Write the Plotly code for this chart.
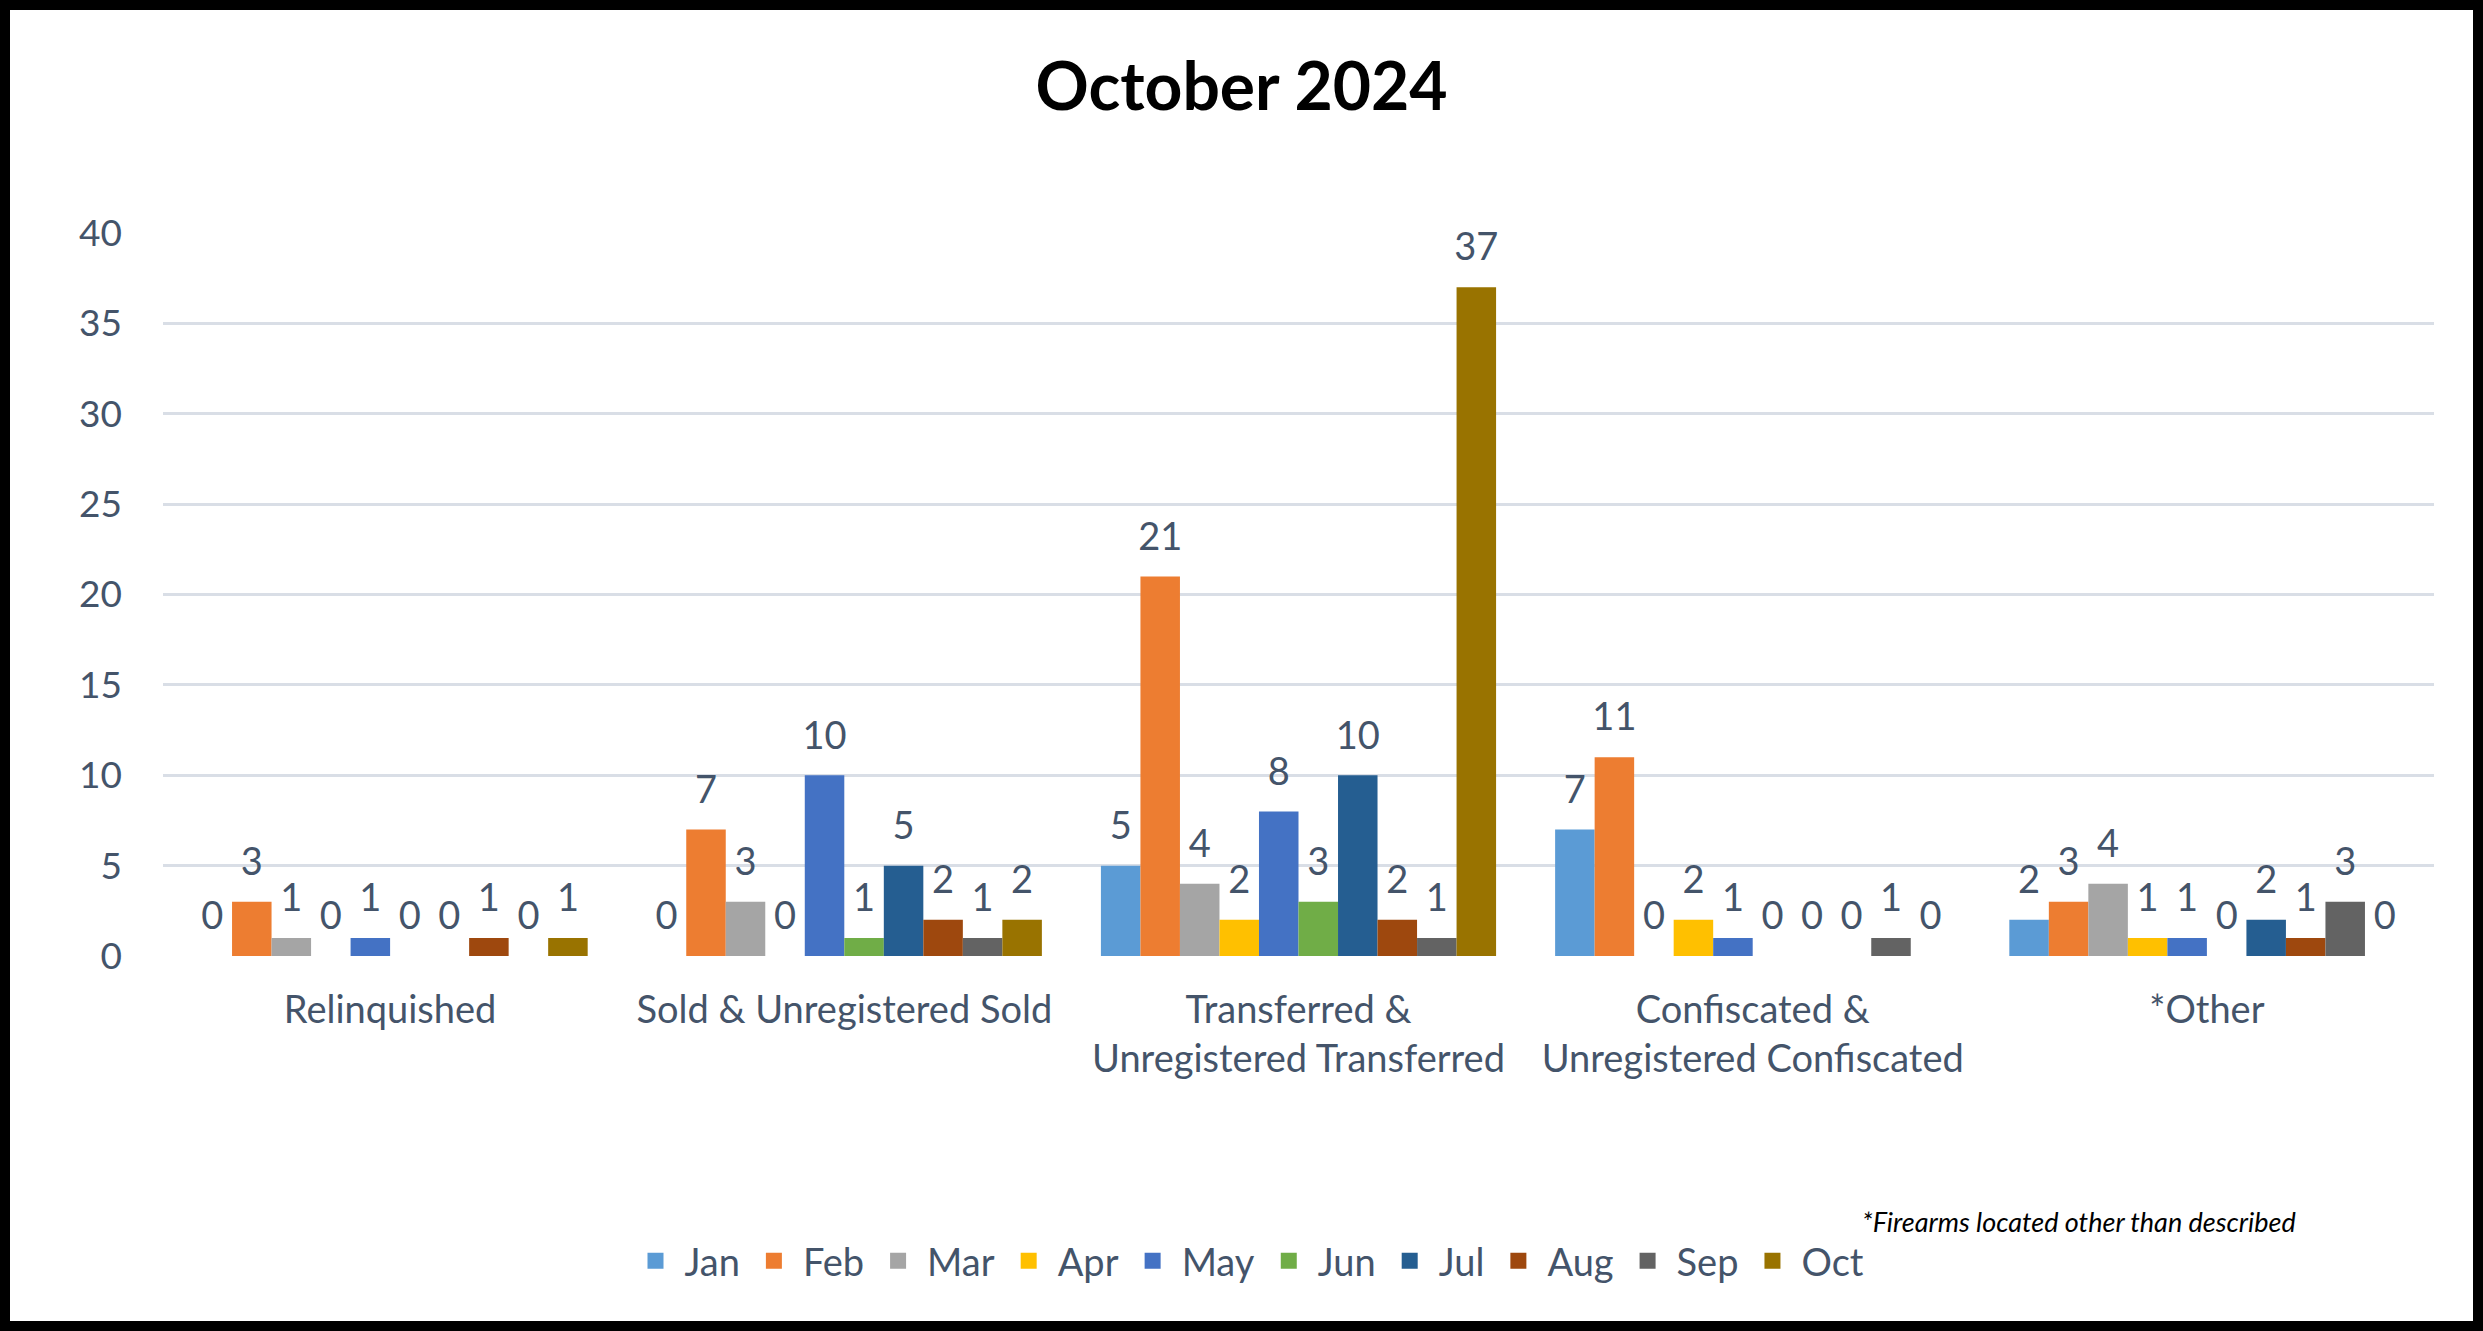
import plotly.graph_objects as go

categories = ["Relinquished", "Sold & Unregistered Sold", "Transferred &<br>Unregistered Transferred",
              "Confiscated &<br>Unregistered Confiscated", "*Other"]
months = ["Jan", "Feb", "Mar", "Apr", "May", "Jun", "Jul", "Aug", "Sep", "Oct"]
values = {
    "Jan": [0, 0, 5, 7, 2],
    "Feb": [3, 7, 21, 11, 3],
    "Mar": [1, 3, 4, 0, 4],
    "Apr": [0, 0, 2, 2, 1],
    "May": [1, 10, 8, 1, 1],
    "Jun": [0, 1, 3, 0, 0],
    "Jul": [0, 5, 10, 0, 2],
    "Aug": [1, 2, 2, 0, 1],
    "Sep": [0, 1, 1, 1, 3],
    "Oct": [1, 2, 37, 0, 0],
}
colors = ["#5B9BD5", "#ED7D31", "#A5A5A5", "#FFC000", "#4472C4", "#70AD47",
          "#255E91", "#9E480E", "#636363", "#997300"]
y_ticks = [0, 5, 10, 15, 20, 25, 30, 35, 40]

W, H = 2483, 1331
ML, MR, MT, MB = 163, 49, 233, 375
PW, PH = W - ML - MR, H - MT - MB
FONT = "Lato"
TXT = "#44546A"
GAP = 0.13

fig = go.Figure()
for m, c in zip(months, colors):
    fig.add_trace(go.Bar(
        name=m, x=categories, y=values[m], marker=dict(color=c, line=dict(width=0)),
        offsetgroup=m, legendgroup=m, showlegend=False,
    ))
for m in months:
    fig.add_trace(go.Scatter(
        x=categories, y=values[m], mode="markers+text", text=values[m],
        textposition="top center", offsetgroup=m, showlegend=False, cliponaxis=False,
        marker=dict(size=26, opacity=0), hoverinfo="skip",
        textfont=dict(family=FONT, size=38, color=TXT),
    ))
for m, c in zip(months, colors):
    fig.add_trace(go.Scatter(
        name=m, x=[None], y=[None], mode="markers", offsetgroup=m, legendgroup=m,
        marker=dict(symbol="square", size=16, color=c), showlegend=True,
    ))

fig.update_layout(
    width=W, height=H, barmode="group", bargap=GAP, bargroupgap=0,
    scattermode="group", scattergap=GAP,
    margin=dict(l=ML, r=MR, t=MT, b=MB, autoexpand=False),
    paper_bgcolor="white", plot_bgcolor="white",
    font=dict(family=FONT, color=TXT),
    title=dict(text="<b>October 2024</b>", x=0.5, xref="container", y=1 - 87 / H,
               yanchor="middle", xanchor="center",
               font=dict(family=FONT, size=66, color="black")),
    legend=dict(orientation="h", x=(1248 - ML) / PW, xanchor="center",
                y=(956 - 1261) / PH, yanchor="middle",
                font=dict(family=FONT, size=38, color=TXT),
                itemwidth=48, tracegroupgap=0, traceorder="normal"),
    showlegend=True,
)
fig.update_yaxes(range=[0, 40], tickvals=y_ticks, showgrid=True, gridcolor="#D9DEE6", gridwidth=3,
                 zeroline=False, showline=False, ticks="", ticklabelstandoff=40,
                 tickfont=dict(family=FONT, size=37, color=TXT))
fig.update_xaxes(showline=False, ticks="", ticklabelstandoff=28,
                 tickfont=dict(family=FONT, size=38, color=TXT))

fig.add_annotation(text="<i>*Firearms located other than described</i>", xref="paper", yref="paper",
                   x=(2079 - ML) / PW, y=(956 - 1221) / PH, xanchor="center", yanchor="middle",
                   showarrow=False, font=dict(family=FONT, size=27, color="black"))

bw = 10
fig.add_shape(type="rect", xref="paper", yref="paper",
              x0=(-ML + bw / 2) / PW, x1=1 + (MR - bw / 2) / PW,
              y0=-(MB - bw / 2) / PH, y1=1 + (MT - bw / 2) / PH,
              line=dict(color="black", width=bw), fillcolor="rgba(0,0,0,0)", layer="above")

fig.write_html("out.html", config={"displayModeBar": False},
               post_script="document.body.style.margin='0px';document.body.style.padding='0px';")
